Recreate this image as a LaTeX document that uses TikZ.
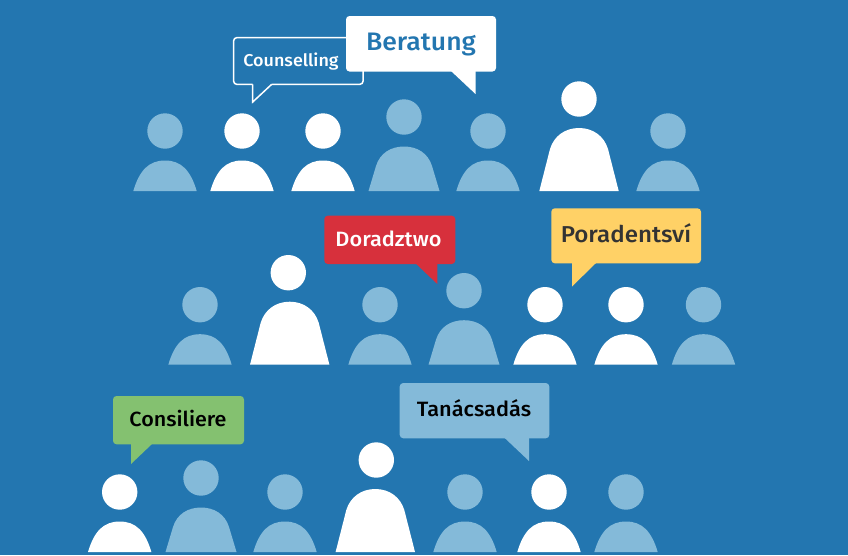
\documentclass[tikz,border=0pt]{standalone}
\usepackage{fontspec}
\setmainfont{Fira Sans}[UprightFont={* Medium},BoldFont={* SemiBold},FakeStretch=1.05]
\definecolor{bg}{HTML}{2376B0}
\definecolor{lite}{HTML}{84BAD9}
\definecolor{redb}{HTML}{D7303C}
\definecolor{yelb}{HTML}{FFD166}
\definecolor{greb}{HTML}{84C170}
\definecolor{inkdark}{HTML}{333333}
\tikzset{
  bubble/.style={rounded corners=3.5pt},
  lbl/.style={inner sep=0pt,anchor=base},
  head/.style={radius=17.7},
}
% \psm{cx}{bottom}{colour}: small person; \pmd medium; \plg{head x}{bottom}{colour}{body x}
\newcommand{\psm}[3]{%
  \fill[#3] (#1,#2-60) circle[head];
  \fill[#3] (#1-31.7,#2) .. controls (#1-25.5,#2-21) and (#1-16,#2-30.5) .. (#1,#2-30.5)
     .. controls (#1+16,#2-30.5) and (#1+25.5,#2-21) .. (#1+31.7,#2) -- cycle;}
\newcommand{\pmd}[3]{%
  \fill[#3] (#1,#2-74) circle[head];
  \fill[#3] (#1-35.5,#2) -- (#1-28,#2-25) .. controls (#1-24,#2-38) and (#1-13,#2-44.5) .. (#1,#2-44.5)
     .. controls (#1+13,#2-44.5) and (#1+24,#2-38) .. (#1+28,#2-25) -- (#1+35.5,#2) -- cycle;}
\newcommand{\plg}[4]{%
  \fill[#3] (#1,#2-92) circle[head];
  \fill[#3] (#4-39.7,#2) -- (#4-29,#2-42) .. controls (#4-25,#2-55) and (#4-14,#2-63) .. (#4,#2-63)
     .. controls (#4+14,#2-63) and (#4+25,#2-55) .. (#4+29,#2-42) -- (#4+39.7,#2) -- cycle;}
\begin{document}
\begin{tikzpicture}[x=1pt,y=-1pt]
\useasboundingbox (0,0) rectangle (848,555);
\fill[bg] (0,0) rectangle (848,555);
\begin{scope}
\clip (0,0) rectangle (848,552);
% row 1
\psm{165}{191}{lite}
\psm{242}{191}{white}
\psm{323}{191}{white}
\pmd{404}{191}{lite}
\psm{488}{191}{lite}
\plg{579}{191}{white}{579}
\psm{668}{191}{lite}
% row 2
\psm{200}{364.7}{lite}
\plg{288.3}{364.7}{white}{289.7}
\psm{380}{364.7}{lite}
\pmd{464}{364.7}{lite}
\psm{545}{364.7}{white}
\psm{626}{364.7}{white}
\psm{703.5}{364.7}{lite}
% row 3
\psm{119.7}{552}{white}
\pmd{201}{552}{lite}
\psm{285}{552}{lite}
\plg{376.3}{552}{white}{375.3}
\psm{465}{552}{lite}
\psm{549}{552}{white}
\psm{626}{552}{lite}
\end{scope}
% bubbles
\draw[white,line width=1.5pt,rounded corners=3pt] (252.7,84.3) -- (233.7,84.3) -- (233.7,37.7) -- (363,37.7) -- (363,84.3) -- (271.7,84.3);
\draw[white,line width=1.5pt,miter limit=10] (252.7,84.3) -- (252.7,102) -- (271.7,84.3);
\node[lbl,text=white,font=\fontsize{17.1}{20}\selectfont] (counselling) at (291,66.7) {Counselling};

\fill[white,bubble] (346,16) -- (496,16) -- (496,71.5) -- (346,71.5) -- cycle;
\fill[white] (451,71) -- (475.5,94) -- (475.5,71) -- cycle;
\node[lbl,text=bg,font=\fontsize{25.3}{29}\selectfont] (beratung) at (421,50) {Beratung};

\fill[redb,bubble] (324.3,215.7) -- (455.3,215.7) -- (455.3,264) -- (324.3,264) -- cycle;
\fill[redb] (415.7,263.5) -- (437.3,284) -- (437.3,263.5) -- cycle;
\node[lbl,text=white,font=\fontsize{20.7}{24}\selectfont] (doradztwo) at (388.5,246) {Doradztwo};

\fill[yelb,bubble] (551.3,208.3) -- (701,208.3) -- (701,263.3) -- (551.3,263.3) -- cycle;
\fill[yelb] (572,263) -- (572,286.5) -- (596,263) -- cycle;
\node[lbl,text=inkdark,font=\fontsize{23}{27}\selectfont] (poradentsvi) at (626,242.3) {Poradentsví};

\fill[greb,bubble] (113,396) -- (244,396) -- (244,444.3) -- (113,444.3) -- cycle;
\fill[greb] (131,444) -- (131,464) -- (152,444) -- cycle;
\node[lbl,text=black,font=\fontsize{20.5}{24}\selectfont] (consiliere) at (178,426.7) {Consiliere};

\fill[lite,bubble] (399.7,383) -- (549.3,383) -- (549.3,438.3) -- (399.7,438.3) -- cycle;
\fill[lite] (504.7,438) -- (529,461) -- (529,438) -- cycle;
\node[lbl,text=black,font=\fontsize{20.7}{24}\selectfont] (tanacsadas) at (474,416) {Tanácsadás};
\end{tikzpicture}
\end{document}
